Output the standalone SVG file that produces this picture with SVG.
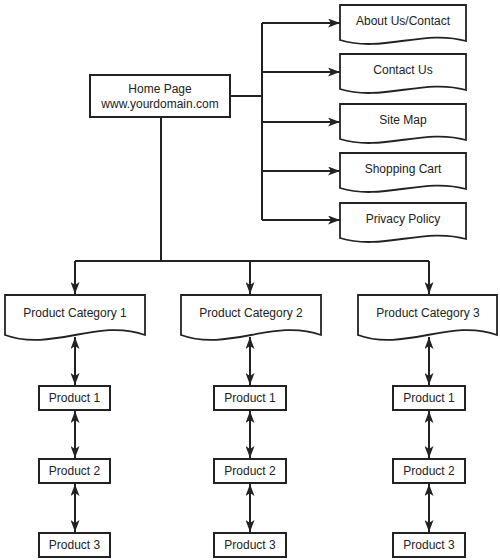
<svg xmlns="http://www.w3.org/2000/svg" width="500" height="560" viewBox="0 0 500 560">
<defs>
<marker id="ah" markerUnits="userSpaceOnUse" markerWidth="12" markerHeight="9" refX="12" refY="4.5" orient="auto-start-reverse" viewBox="0 0 12 9">
<path d="M0,0 L12,4.5 L0,9 L3,4.5 z" fill="#222"/>
</marker>
<style>
.box{fill:#fff;stroke:#222;stroke-width:2}
.doc{fill:#fff;stroke:#222;stroke-width:1.8}
.ln{fill:none;stroke:#222;stroke-width:2}
.t{font-family:"Liberation Sans",Arial,sans-serif;font-size:12px;fill:#222;text-anchor:middle}
</style>
</defs>
<rect width="500" height="560" fill="#fff"/>

<g id="connectors">
<path class="ln" d="M230,96 H262 M262,23 V220"/>
<path class="ln" d="M262,23 H340" marker-end="url(#ah)"/>
<path class="ln" d="M262,72 H340" marker-end="url(#ah)"/>
<path class="ln" d="M262,122 H340" marker-end="url(#ah)"/>
<path class="ln" d="M262,171 H340" marker-end="url(#ah)"/>
<path class="ln" d="M262,220 H340" marker-end="url(#ah)"/>
<path class="ln" d="M161,117 V261 M75,261 H429"/>
<path class="ln" d="M75,261 V294" marker-end="url(#ah)"/>
<path class="ln" d="M250,261 V294" marker-end="url(#ah)"/>
<path class="ln" d="M429,261 V294" marker-end="url(#ah)"/>
<path class="ln" d="M75,337 V385" marker-start="url(#ah)" marker-end="url(#ah)"/>
<path class="ln" d="M75,411 V458" marker-start="url(#ah)" marker-end="url(#ah)"/>
<path class="ln" d="M75,484 V532" marker-start="url(#ah)" marker-end="url(#ah)"/>
<path class="ln" d="M250,337 V385" marker-start="url(#ah)" marker-end="url(#ah)"/>
<path class="ln" d="M250,411 V458" marker-start="url(#ah)" marker-end="url(#ah)"/>
<path class="ln" d="M250,484 V532" marker-start="url(#ah)" marker-end="url(#ah)"/>
<path class="ln" d="M429,337 V385" marker-start="url(#ah)" marker-end="url(#ah)"/>
<path class="ln" d="M429,411 V458" marker-start="url(#ah)" marker-end="url(#ah)"/>
<path class="ln" d="M429,484 V532" marker-start="url(#ah)" marker-end="url(#ah)"/>
</g>

<g id="home">
<rect class="box" x="90" y="75" width="140" height="42"/>
<text class="t" x="160" y="93">Home Page</text>
<text class="t" x="160" y="108">www.yourdomain.com</text>
</g>

<g id="about">
<path class="doc" d="M340,5 H466 V41 C424,29 382,53 340,40 Z"/>
<text class="t" x="403" y="25">About Us/Contact</text>
</g>
<g id="contact">
<path class="doc" d="M340,54 H466 V90 C424,78 382,102 340,89 Z"/>
<text class="t" x="403" y="74">Contact Us</text>
</g>
<g id="sitemap">
<path class="doc" d="M340,104 H466 V140 C424,128 382,152 340,139 Z"/>
<text class="t" x="403" y="124">Site Map</text>
</g>
<g id="cart">
<path class="doc" d="M340,153 H466 V189 C424,177 382,201 340,188 Z"/>
<text class="t" x="403" y="173">Shopping Cart</text>
</g>
<g id="privacy">
<path class="doc" d="M340,203 H466 V239 C424,227 382,251 340,238 Z"/>
<text class="t" x="403" y="223">Privacy Policy</text>
</g>

<g id="cat1">
<path class="doc" d="M5,295 H145 V335 C98,318 52,352 5,335 Z"/>
<text class="t" x="75" y="317">Product Category 1</text>
</g>
<g id="cat2">
<path class="doc" d="M181,295 H321 V335 C274,318 228,352 181,335 Z"/>
<text class="t" x="251" y="317">Product Category 2</text>
</g>
<g id="cat3">
<path class="doc" d="M358,295 H497 V335 C451,318 404,352 358,335 Z"/>
<text class="t" x="428" y="317">Product Category 3</text>
</g>

<g id="c1p1"><rect class="box" x="39" y="386" width="71" height="24"/><text class="t" x="74.5" y="402">Product 1</text></g>
<g id="c1p2"><rect class="box" x="39" y="459" width="71" height="24"/><text class="t" x="74.5" y="475">Product 2</text></g>
<g id="c1p3"><rect class="box" x="39" y="533" width="71" height="24"/><text class="t" x="74.5" y="549">Product 3</text></g>
<g id="c2p1"><rect class="box" x="214" y="386" width="72" height="24"/><text class="t" x="250" y="402">Product 1</text></g>
<g id="c2p2"><rect class="box" x="214" y="459" width="72" height="24"/><text class="t" x="250" y="475">Product 2</text></g>
<g id="c2p3"><rect class="box" x="214" y="533" width="72" height="24"/><text class="t" x="250" y="549">Product 3</text></g>
<g id="c3p1"><rect class="box" x="393" y="386" width="72" height="24"/><text class="t" x="429" y="402">Product 1</text></g>
<g id="c3p2"><rect class="box" x="393" y="459" width="72" height="24"/><text class="t" x="429" y="475">Product 2</text></g>
<g id="c3p3"><rect class="box" x="393" y="533" width="72" height="24"/><text class="t" x="429" y="549">Product 3</text></g>
</svg>
